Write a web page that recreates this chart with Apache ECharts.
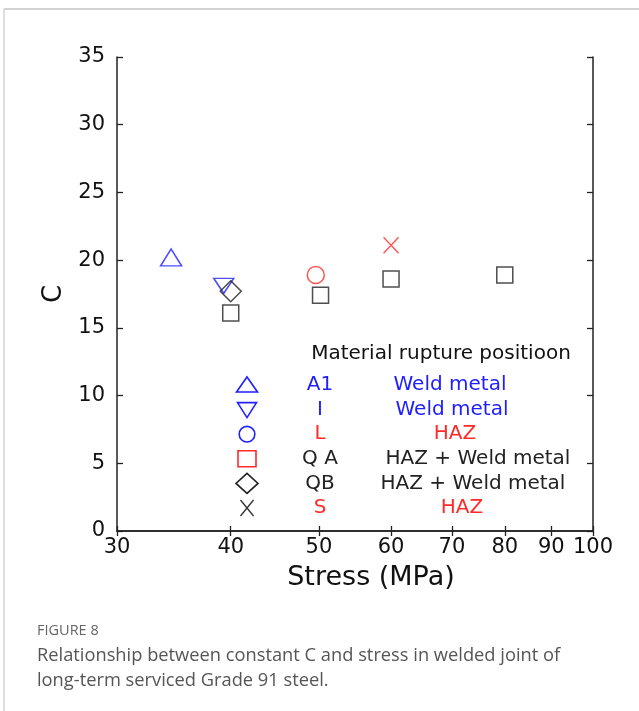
<!DOCTYPE html>
<html>
<head>
<meta charset="utf-8">
<script src="https://cdn.jsdelivr.net/npm/echarts@6/dist/echarts.min.js"></script>
<style>
  html, body { margin: 0; padding: 0; background: #fff; }
  #chart { width: 639px; height: 711px; }
</style>
</head>
<body>
<div id="chart"></div>
<script>
// Constant C versus stress for the welded-joint specimens
const stressTicks = [30, 40, 50, 60, 70, 80, 90, 100];
const cTicksMax = 35;

const seriesA1 = [[34.4, 20.2]];
const seriesI = [[39.3, 18.1]];
const seriesL = [[49.6, 18.9]];
const seriesQA = [[40.0, 16.1], [50.2, 17.4], [60.0, 18.6], [80.0, 18.9]];
const seriesQB = [[40.0, 17.7]];
const seriesS = [[60.0, 21.1]];

// Legend table: specimen code and rupture position
const legendHeader = 'Material rupture positioon';
const legendCodes = ['A1', 'I', 'L', 'Q A', 'QB', 'S'];
const legendPositions = ['Weld metal', 'Weld metal', 'HAZ', 'HAZ + Weld metal', 'HAZ + Weld metal', 'HAZ'];

const figureLabel = 'FIGURE 8';
const captionLines = [
  'Relationship between constant C and stress in welded joint of',
  'long-term serviced Grade 91 steel.'
];

const BLUE = '#2020ff';
const RED = '#ff2a2a';
const BLACK = '#222222';
const FONT = '"DejaVu Sans", Verdana, sans-serif';
const CAPTION_FONT = '"Open Sans", sans-serif';

const chart = echarts.init(document.getElementById('chart'), null, { renderer: 'canvas' });

function hollow(color) {
  return { color: 'rgba(0,0,0,0)', borderColor: color, borderWidth: 1.5 };
}

const crossPath = 'path://M0,0L10,10M10,0L0,10';

// Legend graphics (symbol column, code column, position column)
const rowY0 = 385, rowStep = 24.6;
const symX = 247, codeX = 320;
const posX = [450, 452, 455, 478, 473, 462];
const codeColors = [BLUE, BLUE, RED, BLACK, BLACK, RED];
const posColors = [BLUE, BLUE, RED, BLACK, BLACK, RED];

const legendGraphics = [];
legendGraphics.push({
  type: 'text', x: 441, y: 354,
  style: { text: legendHeader, font: '20px ' + FONT, fill: '#111', align: 'center', verticalAlign: 'middle' }
});
legendCodes.forEach((code, i) => {
  const y = rowY0 + i * rowStep;
  legendGraphics.push({
    type: 'text', x: codeX, y: y,
    style: { text: code, font: '20px ' + FONT, fill: codeColors[i], align: 'center', verticalAlign: 'middle' }
  });
  legendGraphics.push({
    type: 'text', x: posX[i], y: y,
    style: { text: legendPositions[i], font: '20px ' + FONT, fill: posColors[i], align: 'center', verticalAlign: 'middle' }
  });
});
const ls = { fill: 'none', lineWidth: 1.6 };
const ly = i => rowY0 + i * rowStep;
legendGraphics.push(
  { type: 'polygon', shape: { points: [[symX - 10.5, ly(0) + 7], [symX + 10.5, ly(0) + 7], [symX, ly(0) - 8]] },
    style: Object.assign({ stroke: BLUE }, ls) },
  { type: 'polygon', shape: { points: [[symX - 9.5, ly(1) - 7], [symX + 9.5, ly(1) - 7], [symX, ly(1) + 8]] },
    style: Object.assign({ stroke: BLUE }, ls) },
  { type: 'circle', shape: { cx: symX, cy: ly(2), r: 7.8 }, style: Object.assign({ stroke: BLUE }, ls) },
  { type: 'rect', shape: { x: symX - 9, y: ly(3) - 8, width: 18, height: 16 }, style: Object.assign({ stroke: RED }, ls) },
  { type: 'polygon', shape: { points: [[symX, ly(4) - 10], [symX + 11, ly(4)], [symX, ly(4) + 10], [symX - 11, ly(4)]] },
    style: Object.assign({ stroke: BLACK }, ls) },
  { type: 'polyline', shape: { points: [[symX - 6.5, ly(5) - 8], [symX + 6.5, ly(5) + 8]] }, style: { stroke: '#333', lineWidth: 1.3 } },
  { type: 'polyline', shape: { points: [[symX + 6.5, ly(5) - 8], [symX - 6.5, ly(5) + 8]] }, style: { stroke: '#333', lineWidth: 1.3 } }
);

// Page frame and caption
const frameGraphics = [
  { type: 'line', shape: { x1: 4, y1: 9, x2: 639, y2: 9 }, style: { stroke: '#d2d2d2', lineWidth: 2 } },
  { type: 'line', shape: { x1: 4, y1: 9, x2: 4, y2: 711 }, style: { stroke: '#d2d2d2', lineWidth: 1.5 } },
  { type: 'text', x: 37, y: 631, style: { text: figureLabel, font: '14.5px ' + CAPTION_FONT, fill: '#666', verticalAlign: 'middle' } },
  { type: 'text', x: 37, y: 656, style: { text: captionLines[0], font: '18.3px ' + CAPTION_FONT, fill: '#555', verticalAlign: 'middle' } },
  { type: 'text', x: 37, y: 681, style: { text: captionLines[1], font: '18.3px ' + CAPTION_FONT, fill: '#555', verticalAlign: 'middle' } }
];

const axisLineStyle = { lineStyle: { color: '#222', width: 1.5 } };

const option = {
  backgroundColor: '#fff',
  animation: false,
  grid: { left: 117, top: 57, right: 46, bottom: 180, containLabel: false },
  xAxis: [
    {
      type: 'log', logBase: 10, min: 30, max: 100, position: 'bottom',
      name: 'Stress (MPa)', nameLocation: 'middle', nameGap: 33,
      nameTextStyle: { fontSize: 27, color: '#111', fontFamily: FONT, padding: [0, 0, 0, 32] },
      axisLine: axisLineStyle,
      axisTick: { inside: true, length: 5, customValues: stressTicks, lineStyle: { color: '#222', width: 1.3 } },
      axisLabel: { customValues: stressTicks, fontSize: 21, color: '#111', fontFamily: FONT, margin: 6 },
      splitLine: { show: false }, minorTick: { show: false }
    },
    {
      type: 'log', logBase: 10, min: 30, max: 100, position: 'top',
      axisLine: axisLineStyle,
      axisTick: { inside: true, length: 5, customValues: stressTicks, lineStyle: { color: '#222', width: 1.3 } },
      axisLabel: { show: false },
      splitLine: { show: false }
    }
  ],
  yAxis: [
    {
      type: 'value', min: 0, max: cTicksMax, interval: 5, position: 'left',
      name: 'C', nameLocation: 'middle', nameGap: 48, nameRotate: 90,
      nameTextStyle: { fontSize: 26, color: '#111', fontFamily: FONT },
      axisLine: { show: true, lineStyle: { color: '#222', width: 1.5 } },
      axisTick: { show: true, inside: true, length: 6, lineStyle: { color: '#222', width: 1.3 } },
      axisLabel: { fontSize: 21, color: '#111', fontFamily: FONT, margin: 12, padding: [0, 0, 7, 0] },
      splitLine: { show: false }
    },
    {
      type: 'value', min: 0, max: cTicksMax, interval: 5, position: 'right',
      axisLine: { show: true, lineStyle: { color: '#222', width: 1.5 } },
      axisTick: { show: true, inside: true, length: 6, lineStyle: { color: '#222', width: 1.3 } },
      axisLabel: { show: false },
      splitLine: { show: false }
    }
  ],
  series: [
    { name: 'A1', type: 'scatter', data: seriesA1, symbol: 'triangle', symbolSize: [21, 17], itemStyle: hollow(BLUE) },
    { name: 'I', type: 'scatter', data: seriesI, symbol: 'triangle', symbolRotate: 180, symbolSize: [20, 15], itemStyle: hollow(BLUE) },
    { name: 'QB', type: 'scatter', data: seriesQB, symbol: 'diamond', symbolSize: [21, 21], itemStyle: hollow(BLACK) },
    { name: 'QA', type: 'scatter', data: seriesQA, symbol: 'rect', symbolSize: [16, 16], itemStyle: hollow(BLACK) },
    { name: 'L', type: 'scatter', data: seriesL, symbol: 'circle', symbolSize: 17, itemStyle: hollow(RED) },
    { name: 'S', type: 'scatter', data: seriesS, symbol: crossPath, symbolSize: [15, 16], itemStyle: hollow(RED) }
  ],
  graphic: frameGraphics.concat(legendGraphics)
};

chart.setOption(option);
</script>
</body>
</html>
